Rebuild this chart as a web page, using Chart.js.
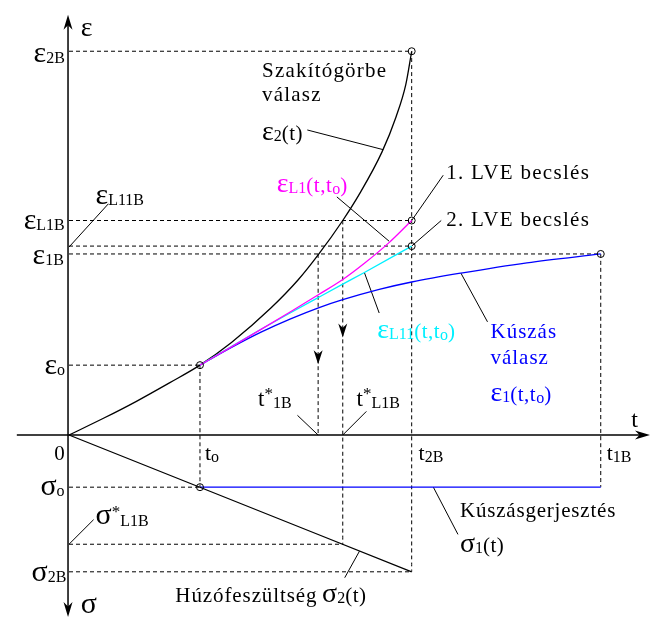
<!DOCTYPE html>
<html>
<head>
<meta charset="utf-8">
<script src="https://cdn.jsdelivr.net/npm/chart.js@4.4.0/dist/chart.umd.min.js"></script>
<style>
  body { margin: 0; background: #fff; }
</style>
</head>
<body>
<canvas id="myChart" width="654" height="626"></canvas>
<script>
// key times (arbitrary units, origin = 0)
const t0 = 133, tStar1B = 253, tStarL1B = 278, t2B = 348, t1B = 540;
// strain levels (upwards)
const eps0 = 71, eps1B = 184, epsL11B = 192, epsL1B = 218, eps2B = 390;
// stress levels (drawn downwards, so negative)
const sig0 = -53, sigStarL1B = -111, sig2B = -139;

// eps2(t) - szakitogorbe valasz
const eps2T = [0, 35, 68, 102, 133, 165, 205, 233, 253, 278, 295, 318, 332, 342, 348];
const eps2V = [0, 17, 34, 53, 71, 94, 129, 158, 183, 218, 245, 288, 323, 356, 390];
// eps1(t,to) - kuszas valasz
const eps1T = [133, 165, 195, 225, 254, 278, 315, 348, 398, 465, 540];
const eps1V = [71, 89, 104.5, 118, 129.5, 137.5, 148, 155.5, 164.5, 175, 184];
// epsL1(t,to) - 1. LVE becsles
const epsL1T = [133, 165, 195, 225, 254, 278, 300, 325, 348];
const epsL1V = [71, 89.6, 107.3, 125.3, 143, 158, 174.5, 195.5, 218];
// epsL11(t,to) - 2. LVE becsles
const epsL11T = [133, 165, 195, 225, 254, 278, 300, 348];
const epsL11V = [71, 90, 107.5, 124.3, 140.2, 153.3, 165.2, 192];
// sigma2(t) and sigma1(t)
const sig2T = [0, t2B];
const sig2V = [0, sig2B];
const sig1T = [t0, t1B];
const sig1V = [sig0, sig0];

function pts(xs, ys) {
  return xs.map((x, i) => ({ x: x, y: ys[i] }));
}

function line(xs, ys, color, width) {
  return {
    data: pts(xs, ys),
    showLine: true,
    borderColor: color,
    borderWidth: width,
    pointRadius: 0,
    cubicInterpolationMode: 'monotone',
    fill: false
  };
}

function dashed(xs, ys) {
  let d = line(xs, ys, '#000', 1);
  d.borderDash = [4, 3];
  return d;
}

// little circles at the marked points
const markT = [t0, t2B, t2B, t2B, t1B, t0];
const markV = [eps0, eps2B, epsL1B, epsL11B, eps1B, sig0];

const datasets = [
  {
    data: pts(markT, markV),
    showLine: false,
    pointRadius: 3.5,
    pointBackgroundColor: 'rgba(0,0,0,0)',
    pointBorderColor: '#000',
    pointBorderWidth: 1
  },
  line(epsL1T, epsL1V, '#ff00ff', 1.3),
  line(epsL11T, epsL11V, '#00f0ff', 1.3),
  line(eps1T, eps1V, '#0000ff', 1.3),
  line(eps2T, eps2V, '#000', 1.3),
  line(sig2T, sig2V, '#000', 1.3),
  line(sig1T, sig1V, '#0000ff', 1.3),

  // dashed helper lines
  dashed([0, t2B], [eps2B, eps2B]),
  dashed([0, t2B], [epsL1B, epsL1B]),
  dashed([0, t2B], [epsL11B, epsL11B]),
  dashed([0, t1B], [eps1B, eps1B]),
  dashed([0, t0], [eps0, eps0]),
  dashed([t0, t0], [eps0, sig0]),
  dashed([t2B, t2B], [eps2B, sig2B]),
  dashed([t1B, t1B], [eps1B, sig0]),
  dashed([tStar1B, tStar1B], [eps1B, 0]),
  dashed([tStarL1B, tStarL1B], [epsL1B, sigStarL1B]),
  dashed([0, t0], [sig0, sig0]),
  dashed([0, tStarL1B], [sigStarL1B, sigStarL1B]),
  dashed([0, t2B], [sig2B, sig2B]),

  // leader lines of the labels
  line([0, 40], [191, 235], '#000', 1),
  line([242, 319], [310, 290], '#000', 1),
  line([272, 325], [242, 197], '#000', 1),
  line([t2B, 380], [epsL1B, 264], '#000', 1),
  line([t2B, 378], [epsL11B, 218], '#000', 1),
  line([300, 315], [165, 124], '#000', 1),
  line([398, 425], [164.5, 115], '#000', 1),
  line([232, tStar1B], [20, 0], '#000', 1),
  line([tStarL1B, 302], [0, 24], '#000', 1),
  line([0, 25], [sigStarL1B, -86], '#000', 1),
  line([295, 280], [-118, -145], '#000', 1),
  line([370, 395], [sig0, -101], '#000', 1)
];

// texts: position (x,y in data units), colour, runs [text, size, dy, spacing]
const SERIF = '"Liberation Serif", "Times New Roman", serif';
const texts = [
  { x: 12, y: 406, c: '#000', r: [['ε', 28, 0, 0]] },
  { x: -36, y: 379, c: '#000', r: [['ε', 30, 0, 0], ['2B', 16, 1, 0]] },
  { x: 27, y: 235, c: '#000', r: [['ε', 30, 0, 0], ['L11B', 16, 1, 0]] },
  { x: -46, y: 209, c: '#000', r: [['ε', 30, 0, 0], ['L1B', 16, 1, 0]] },
  { x: -37, y: 174, c: '#000', r: [['ε', 30, 0, 0], ['1B', 16, 1, 0]] },
  { x: -25, y: 62, c: '#000', r: [['ε', 30, 0, 0], ['o', 16, 1, 0]] },
  { x: -15, y: -25, c: '#000', r: [['0', 21, 0, 0]] },
  { x: 138, y: -25, c: '#000', r: [['t', 22, 0, 0], ['o', 16, 2, 0]] },
  { x: 355, y: -25, c: '#000', r: [['t', 22, 0, 0], ['2B', 16, 2, 0]] },
  { x: 546, y: -25, c: '#000', r: [['t', 22, 0, 0], ['1B', 16, 2, 0]] },
  { x: 571, y: 8, c: '#000', r: [['t', 24, 0, 0]] },
  { x: 192, y: 29, c: '#000', r: [['t', 23, 0, 0], ['*', 17, -7, 0], ['1B', 16, 2, 0]] },
  { x: 292, y: 29, c: '#000', r: [['t', 23, 0, 0], ['*', 17, -7, 0], ['L1B', 16, 2, 0]] },
  { x: -29, y: -61, c: '#000', r: [['σ', 30, 0, 0], ['o', 16, 1, 0]] },
  { x: 27, y: -90, c: '#000', r: [['σ', 30, 0, 0], ['*', 17, -7, 0], ['L1B', 16, 2, 0]] },
  { x: -38, y: -148, c: '#000', r: [['σ', 30, 0, 0], ['2B', 16, 1, 0]] },
  { x: 12, y: -181, c: '#000', r: [['σ', 30, 0, 0]] },
  { x: 196, y: 364, c: '#000', r: [['Szakítógörbe', 21, 0, 1.2]] },
  { x: 196, y: 339, c: '#000', r: [['válasz', 21, 0, 1.2]] },
  { x: 196, y: 300, c: '#000', r: [['ε', 28, 0, 0], ['2', 16, 1, 0], ['(t)', 21, 0, 0.5]] },
  { x: 211, y: 247, c: '#ff00ff', r: [['ε', 28, 0, 0], ['L1', 16, 1, 0], ['(t,t', 21, 0, 0.5], ['o', 16, 2, 0], [')', 21, 0, 0]] },
  { x: 383, y: 260, c: '#000', r: [['1. LVE becslés', 21, 0, 1.3]] },
  { x: 383, y: 212, c: '#000', r: [['2. LVE becslés', 21, 0, 1.3]] },
  { x: 313, y: 99, c: '#00f0ff', r: [['ε', 28, 0, 0], ['L11', 16, 1, 0], ['(t,t', 21, 0, 0.5], ['o', 16, 2, 0], [')', 21, 0, 0]] },
  { x: 428, y: 99, c: '#0000ff', r: [['Kúszás', 21, 0, 1.0]] },
  { x: 428, y: 72, c: '#0000ff', r: [['válasz', 21, 0, 1.0]] },
  { x: 428, y: 35, c: '#0000ff', r: [['ε', 28, 0, 0], ['1', 16, 1, 0], ['(t,t', 21, 0, 0.5], ['o', 16, 2, 0], [')', 21, 0, 0]] },
  { x: 397, y: -83, c: '#000', r: [['Kúszásgerjesztés', 21, 0, 0.8]] },
  { x: 397, y: -119, c: '#000', r: [['σ', 28, 0, 0], ['1', 16, 1, 0], ['(t)', 21, 0, 0.5]] },
  { x: 108, y: -170, c: '#000', r: [['Húzófeszültség', 21, 0, 0.9]] },
  { x: 257, y: -170, c: '#000', r: [['σ', 28, 0, 0], ['2', 16, 1, 0], ['(t)', 21, 0, 0.5]] }
];

// filled arrow head, tip at (x,y), pointing along (dx,dy)
function arrowHead(ctx, x, y, dx, dy, len, wid) {
  let px = -dy, py = dx;
  ctx.beginPath();
  ctx.moveTo(x, y);
  ctx.lineTo(x - dx * len + px * wid / 2, y - dy * len + py * wid / 2);
  ctx.lineTo(x - dx * len * 0.7, y - dy * len * 0.7);
  ctx.lineTo(x - dx * len - px * wid / 2, y - dy * len - py * wid / 2);
  ctx.closePath();
  ctx.fill();
}

const decor = {
  id: 'decor',
  afterDatasetsDraw(chart) {
    const ctx = chart.ctx;
    const xs = chart.scales.x, ys = chart.scales.y;
    const X = v => xs.getPixelForValue(v);
    const Y = v => ys.getPixelForValue(v);
    ctx.save();
    ctx.strokeStyle = '#000';
    ctx.fillStyle = '#000';
    ctx.lineWidth = 1.5;
    // t axis
    ctx.beginPath();
    ctx.moveTo(X(-53), Y(0));
    ctx.lineTo(X(586), Y(0));
    ctx.stroke();
    arrowHead(ctx, X(590), Y(0), 1, 0, 15, 9);
    // eps / sigma axis
    ctx.beginPath();
    ctx.moveTo(X(-1), Y(423));
    ctx.lineTo(X(-1), Y(-181));
    ctx.stroke();
    arrowHead(ctx, X(-1), Y(427), 0, -1, 15, 9);
    arrowHead(ctx, X(-1), Y(-185), 0, 1, 15, 9);
    // arrows on the dashed lines
    arrowHead(ctx, X(tStar1B), Y(72), 0, 1, 14, 9);
    arrowHead(ctx, X(tStarL1B), Y(99), 0, 1, 14, 9);

    // labels
    ctx.textBaseline = 'alphabetic';
    ctx.textAlign = 'left';
    for (const t of texts) {
      let x = X(t.x);
      const y = Y(t.y);
      ctx.fillStyle = t.c;
      for (const r of t.r) {
        ctx.font = r[1] + 'px ' + SERIF;
        ctx.letterSpacing = r[3] + 'px';
        ctx.fillText(r[0], x, y + r[2]);
        x += ctx.measureText(r[0]).width;
      }
    }
    ctx.letterSpacing = '0px';
    ctx.restore();
  }
};

new Chart(document.getElementById('myChart').getContext('2d'), {
  type: 'scatter',
  data: { datasets: datasets },
  options: {
    responsive: false,
    animation: false,
    layout: { padding: 0 },
    plugins: { legend: { display: false }, tooltip: { enabled: false } },
    scales: {
      x: { type: 'linear', min: -65, max: 589, display: false },
      y: { type: 'linear', min: -189, max: 437, display: false }
    }
  },
  plugins: [decor]
});
</script>
</body>
</html>
